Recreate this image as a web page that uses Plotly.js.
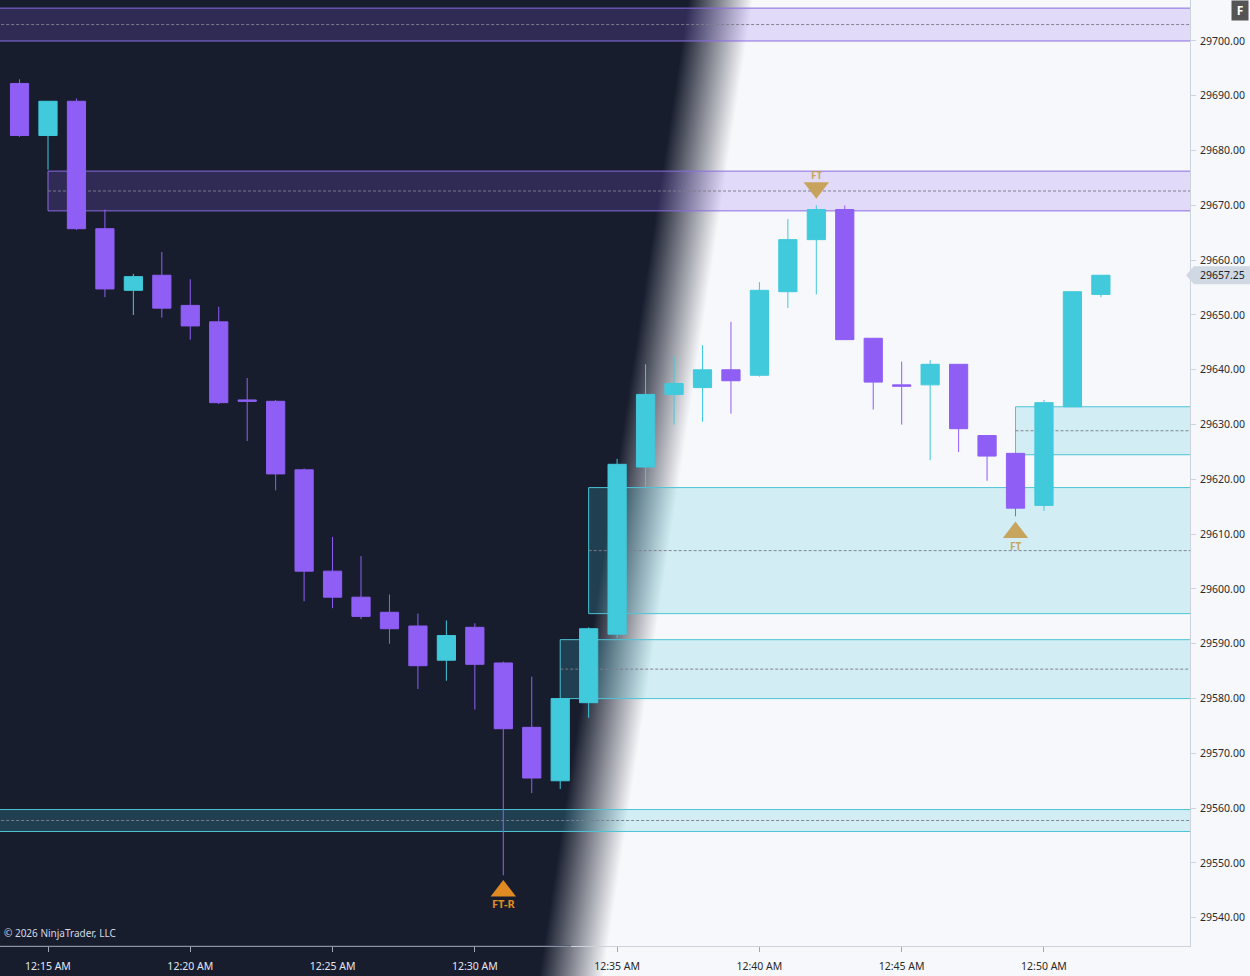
<!DOCTYPE html>
<html>
<head>
<meta charset="utf-8">
<script src="https://cdn.plot.ly/plotly-3.0.1.min.js"></script>
<style>
html,body{margin:0;padding:0;background:#f7f8fb;}
#chart{width:1250px;height:976px;background:linear-gradient(98.7deg,#181d2e 0%,#181d2e 49.2%,#f7f8fb 53.8%,#f7f8fb 100%);}
</style>
</head>
<body>
<div id="chart"></div>
<script>
// ---------- DATA ----------
const DAY = '2026-01-01 ';
const times = ['00:14','00:15','00:16','00:17','00:18','00:19','00:20','00:21','00:22','00:23',
               '00:24','00:25','00:26','00:27','00:28','00:29','00:30','00:31','00:32','00:33',
               '00:34','00:35','00:36','00:37','00:38','00:39','00:40','00:41','00:42','00:43',
               '00:44','00:45','00:46','00:47','00:48','00:49','00:50','00:51','00:52'];
const opens  = [29692.25,29682.75,29689.00,29665.75,29654.50,29657.25,29651.75,29648.75,29634.50,29634.25,
                29621.75,29603.25,29598.50,29595.75,29593.25,29587.00,29593.00,29586.50,29574.75,29565.00,
                29579.25,29591.75,29622.25,29635.50,29636.75,29640.00,29639.00,29654.25,29663.75,29669.25,
                29645.75,29637.25,29637.25,29641.00,29628.00,29624.75,29615.25,29633.25,29653.75];
const highs  = [29693.00,29689.00,29689.50,29669.25,29657.50,29661.50,29656.50,29651.50,29638.50,29634.50,
                29622.00,29609.50,29606.00,29599.00,29595.50,29594.25,29593.75,29586.75,29584.00,29580.00,
                29593.00,29623.75,29641.00,29642.50,29644.50,29648.75,29656.00,29667.50,29670.00,29670.00,
                29645.75,29641.50,29641.75,29641.00,29628.00,29624.75,29634.50,29654.25,29657.25];
const lows   = [29682.50,29676.50,29665.50,29653.25,29650.00,29649.50,29645.50,29633.75,29627.00,29618.00,
                29597.75,29596.50,29594.50,29590.00,29581.75,29583.25,29578.00,29547.75,29562.75,29563.50,
                29576.50,29591.00,29618.50,29630.00,29630.50,29632.00,29638.75,29651.25,29653.75,29645.50,
                29632.75,29630.00,29623.50,29625.00,29619.75,29613.25,29614.25,29633.25,29653.25];
const closes = [29682.75,29689.00,29665.75,29654.75,29657.00,29651.25,29648.00,29634.00,29634.25,29621.00,
                29603.25,29598.50,29595.00,29592.75,29586.00,29591.50,29586.25,29574.50,29565.50,29580.00,
                29592.75,29622.75,29635.50,29637.50,29640.00,29638.00,29654.50,29663.75,29669.25,29645.50,
                29637.75,29637.00,29641.00,29629.25,29624.25,29614.75,29634.00,29654.25,29657.25];

// supply / demand zones
const zoneStart  = ['00:00','00:15','00:34','00:33','00:00','00:49'];
const zoneTop    = [29706.00,29676.25,29618.50,29590.75,29559.75,29633.25];
const zoneBottom = [29700.00,29669.00,29595.50,29580.00,29555.75,29624.50];
const zoneKind   = ['supply','supply','demand','demand','demand','demand'];

// signal markers
const sigTimes  = ['00:31','00:42','00:49'];
const sigPrices = [29544.9,29673.2,29610.3];
const sigLabels = ['FT-R','FT','FT'];
const sigDir    = ['up','down','up'];

// axis ticks
const xTickTimes  = ['00:15','00:20','00:25','00:30','00:35','00:40','00:45','00:50'];
const xTickLabels = ['12:15 AM','12:20 AM','12:25 AM','12:30 AM','12:35 AM','12:40 AM','12:45 AM','12:50 AM'];
const xRange = ['00:13:18.8','00:55:07.9'];
const yRange = [29534.85,29707.48];
const copyright = '© 2026 NinjaTrader, LLC';

// ---------- STYLE ----------
const PURPLE = '#8f5ef5';
const CYAN = '#41c9dc';
const FONT = 'Noto Sans, Open Sans, sans-serif';
const lastClose = closes[closes.length - 1];
const t = s => DAY + s;
const darkBoundary = t('00:33:20');

const traces = [];
traces.push({
  type: 'candlestick',
  x: times.map(t), open: opens, high: highs, low: lows, close: closes,
  increasing: {line: {color: CYAN, width: 1}, fillcolor: CYAN},
  decreasing: {line: {color: PURPLE, width: 1}, fillcolor: PURPLE},
  whiskerwidth: 0, hoverinfo: 'skip', showlegend: false
});

const sigColor = l => l === 'FT-R' ? '#df8a22' : 'rgba(198,158,80,0.92)';
traces.push({
  type: 'scatter', mode: 'markers',
  x: sigTimes.map(t), y: sigPrices,
  marker: {
    symbol: sigDir.map(d => d === 'up' ? 'triangle-up' : 'triangle-down'),
    size: 22,
    color: sigLabels.map(sigColor), line: {width: 0}
  },
  hoverinfo: 'skip', showlegend: false
});

const shapes = [];
zoneKind.forEach((k, i) => {
  const fill = k === 'supply' ? 'rgba(140,100,240,0.20)' : 'rgba(64,200,220,0.20)';
  const edge = k === 'supply' ? '#8a6be2' : '#4cc4d6';
  shapes.push({type: 'rect', xref: 'x', yref: 'y', layer: 'below',
    x0: t(zoneStart[i]), x1: t('01:00'), y0: zoneBottom[i], y1: zoneTop[i],
    fillcolor: fill, line: {color: edge, width: 1}});
  const mid = (zoneTop[i] + zoneBottom[i]) / 2;
  shapes.push({type: 'line', xref: 'x', yref: 'y', layer: 'below',
    x0: t(zoneStart[i]), x1: t('01:00'), y0: mid, y1: mid,
    line: {color: 'rgba(125,125,140,0.95)', width: 1, dash: '3px,2px'}});
});
// x axis line: dark part on dark side
shapes.push({type: 'line', xref: 'paper', yref: 'paper', layer: 'above',
  x0: 0, x1: 0.48, y0: 0, y1: 0, line: {color: '#4a5368', width: 1}});
// current price tag
const half = 9 / ((946) / (yRange[1] - yRange[0]));
const px = v => v / 1190;
shapes.push({type: 'path', xref: 'paper', yref: 'y', layer: 'above',
  path: `M ${px(1186)} ${lastClose} L ${px(1194)} ${lastClose + half} L ${px(1250)} ${lastClose + half} L ${px(1250)} ${lastClose - half} L ${px(1194)} ${lastClose - half} Z`,
  fillcolor: '#cfd8e3', line: {width: 0}});

const annotations = [];
sigLabels.forEach((l, i) => {
  annotations.push({x: t(sigTimes[i]), y: sigPrices[i], xref: 'x', yref: 'y', showarrow: false,
    text: '<b>' + l + '</b>', yshift: sigDir[i] === 'up' ? -13 : 13,
    font: {family: FONT, size: l === 'FT-R' ? 11 : 10, color: sigColor(l)}});
});
annotations.push({xref: 'paper', yref: 'y', x: px(1198), y: lastClose, xanchor: 'left', yanchor: 'middle',
  showarrow: false, text: lastClose.toFixed(2), font: {family: FONT, size: 10.5, color: '#222'}});
annotations.push({xref: 'paper', yref: 'paper', x: px(2), y: 1 - 933 / 946, xanchor: 'left', yanchor: 'middle',
  showarrow: false, text: copyright, font: {family: FONT, size: 10, color: '#d3d8e2'}});
annotations.push({xref: 'paper', yref: 'paper', x: px(1249), y: 1, xanchor: 'right', yanchor: 'top',
  showarrow: false, text: '<b>F</b>', bgcolor: '#555555', width: 14, height: 17,
  font: {family: FONT, size: 12, color: '#ffffff'}});

const tickText = xTickLabels.map((s, i) => {
  const c = t(xTickTimes[i]) < darkBoundary ? '#e2e6ee' : '#2a2a2a';
  return `<span style="color:${c}">${s}</span>`;
});

const layout = {
  width: 1250, height: 976,
  margin: {l: 0, r: 60, t: 0, b: 30, pad: 0},
  paper_bgcolor: 'rgba(0,0,0,0)', plot_bgcolor: 'rgba(0,0,0,0)',
  boxgap: 0.36, boxgroupgap: 0,
  hovermode: false, showlegend: false,
  font: {family: FONT, size: 10.5, color: '#2a2a2a'},
  xaxis: {
    type: 'date', range: xRange.map(t), rangeslider: {visible: false},
    showgrid: false, zeroline: false,
    showline: true, linecolor: '#cdd3dc', linewidth: 1,
    ticks: 'outside', ticklen: 5, tickcolor: '#a0a8b6',
    ticklabelstandoff: 5,
    tickvals: xTickTimes.map(t), ticktext: tickText,
    tickfont: {family: FONT, size: 10.5}
  },
  yaxis: {
    side: 'right', range: yRange, dtick: 10, tick0: 29700, tickformat: '.2f',
    showgrid: false, zeroline: false,
    showline: true, linecolor: '#cdd3dc', linewidth: 1,
    ticks: 'outside', ticklen: 5, tickcolor: '#cdd3dc',
    ticklabelstandoff: 2,
    tickfont: {family: FONT, size: 10.5, color: '#2a2a2a'}
  },
  shapes: shapes,
  annotations: annotations
};

Plotly.newPlot('chart', traces, layout, {displayModeBar: false, staticPlot: true});
</script>
</body>
</html>
